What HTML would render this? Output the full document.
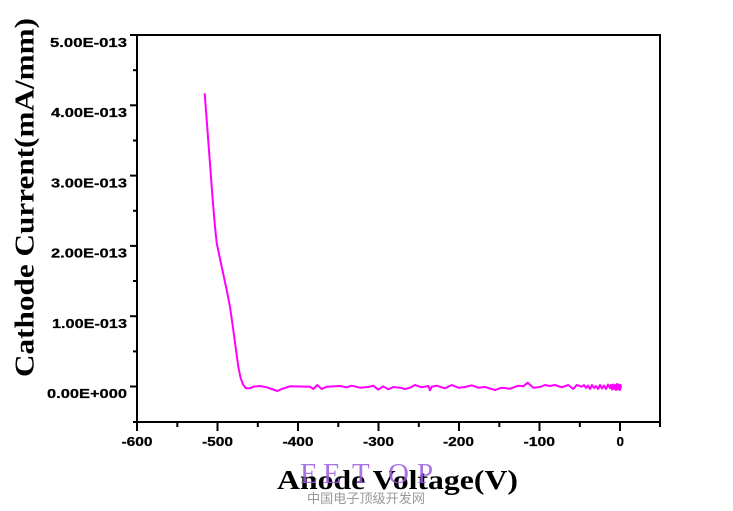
<!DOCTYPE html>
<html>
<head>
<meta charset="utf-8">
<style>
html,body{margin:0;padding:0;background:#fff;}
svg{display:block;}
.tk{font-family:"Liberation Sans",Arial,sans-serif;font-weight:bold;font-size:13px;fill:#000;stroke:#000;stroke-width:0.25;}
.tt{font-family:"Liberation Serif","Times New Roman",serif;font-weight:bold;font-size:27px;fill:#000;}
</style>
</head>
<body>
<svg width="733" height="511" viewBox="0 0 733 511" xmlns="http://www.w3.org/2000/svg">
<rect x="0" y="0" width="733" height="511" fill="#fff"/>
<g stroke="#000" stroke-width="2" fill="none">
<line x1="137" y1="34" x2="137" y2="423"/>
<line x1="136" y1="422" x2="661" y2="422"/>
<line x1="136" y1="35" x2="661" y2="35"/>
<line x1="660" y1="34" x2="660" y2="423"/>
<line x1="130" y1="386.5" x2="137" y2="386.5"/>
<line x1="130" y1="316.2" x2="137" y2="316.2"/>
<line x1="130" y1="245.9" x2="137" y2="245.9"/>
<line x1="130" y1="175.6" x2="137" y2="175.6"/>
<line x1="130" y1="105.3" x2="137" y2="105.3"/>
<line x1="130" y1="35" x2="137" y2="35"/>
<line x1="133" y1="422" x2="137" y2="422"/>
<line x1="133" y1="351.4" x2="137" y2="351.4"/>
<line x1="133" y1="281" x2="137" y2="281"/>
<line x1="133" y1="210.8" x2="137" y2="210.8"/>
<line x1="133" y1="140.5" x2="137" y2="140.5"/>
<line x1="133" y1="70.2" x2="137" y2="70.2"/>
<line x1="137" y1="422" x2="137" y2="431"/>
<line x1="217.5" y1="422" x2="217.5" y2="431"/>
<line x1="298" y1="422" x2="298" y2="431"/>
<line x1="378.5" y1="422" x2="378.5" y2="431"/>
<line x1="459" y1="422" x2="459" y2="431"/>
<line x1="539.5" y1="422" x2="539.5" y2="431"/>
<line x1="620" y1="422" x2="620" y2="431"/>
<line x1="177.3" y1="422" x2="177.3" y2="427"/>
<line x1="257.8" y1="422" x2="257.8" y2="427"/>
<line x1="338.3" y1="422" x2="338.3" y2="427"/>
<line x1="418.8" y1="422" x2="418.8" y2="427"/>
<line x1="499.3" y1="422" x2="499.3" y2="427"/>
<line x1="579.8" y1="422" x2="579.8" y2="427"/>
<line x1="660" y1="422" x2="660" y2="427"/>
</g>
<text class="tk" x="50" y="47" textLength="77" lengthAdjust="spacingAndGlyphs">5.00E-013</text>
<text class="tk" x="51" y="117" textLength="76" lengthAdjust="spacingAndGlyphs">4.00E-013</text>
<text class="tk" x="51" y="187.5" textLength="76" lengthAdjust="spacingAndGlyphs">3.00E-013</text>
<text class="tk" x="51" y="257.5" textLength="76" lengthAdjust="spacingAndGlyphs">2.00E-013</text>
<text class="tk" x="52" y="328" textLength="75" lengthAdjust="spacingAndGlyphs">1.00E-013</text>
<text class="tk" x="47" y="398" textLength="80" lengthAdjust="spacingAndGlyphs">0.00E+000</text>
<text class="tk" x="121.5" y="446" textLength="31" lengthAdjust="spacingAndGlyphs">-600</text>
<text class="tk" x="202" y="446" textLength="31" lengthAdjust="spacingAndGlyphs">-500</text>
<text class="tk" x="282.5" y="446" textLength="31" lengthAdjust="spacingAndGlyphs">-400</text>
<text class="tk" x="363" y="446" textLength="31" lengthAdjust="spacingAndGlyphs">-300</text>
<text class="tk" x="443" y="446" textLength="31" lengthAdjust="spacingAndGlyphs">-200</text>
<text class="tk" x="523.5" y="446" textLength="31.5" lengthAdjust="spacingAndGlyphs">-100</text>
<text class="tk" x="616.5" y="446" textLength="7.5" lengthAdjust="spacingAndGlyphs">0</text>
<polyline fill="none" stroke="#ff00ff" stroke-width="2" stroke-linejoin="round" points="
204.7,93.3 206.7,120 208.7,146.7 210.7,173 212.7,200 215,226.7 216.7,243 221.7,266.7 226.7,290 230,306.7 233.3,330 236,350 238.3,366.7 240.7,378.3 243.3,385 246,388.3 250,388.3 253.3,386.7 260,386 266.7,387.3 271.7,389 277.3,391 281.7,389 290,386.3 300,386.5 310,386.7 313.3,389 317.3,385 321.7,389 326.7,386.7 340,386 346.7,387.3 351.7,385.7 360,387.7 368.3,387 373.3,385.7 378.3,389.7 383.3,386.3 388.3,389.3 393.3,387 400,387.7 405,389 410,387.7 415,385 421.7,387.3 428.3,386 430,390.3 431.7,386.7 436.7,385.7 445,388.3 451.7,385 458.3,387.7 465,387 471.7,385.3 478.3,387.7 485,387 495,390 501.7,387.7 510,388.7 518.3,385.7 523.3,386.3 527.7,382.7 533.3,387.7 540,387 545,385 550,386 555,385 561.7,387.3 568.3,385 573.3,389 576.7,385 581.7,386.7 584,385 586,388 588,385.5 590,389 592,385 594,388 596,386 598,389 600,385 602,388.5 604,385.5 606,389 608,384.5 610,388 611,385 612,389.5 613,384.5 614,389 615,385 616,390 617,384 618,389.5 619,384.5 620,390 620.5,385 621,388"/>
<text class="tt" x="277" y="489" textLength="241" lengthAdjust="spacingAndGlyphs">Anode Voltage(V)</text>
<text class="tt" transform="translate(33.5,377) rotate(-90)" x="0" y="0" textLength="359" lengthAdjust="spacingAndGlyphs">Cathode Current(mA/mm)</text>
<text x="300 323 352 388 417" y="483" font-family="Liberation Serif, serif" font-size="29" fill="#9a5be0" fill-opacity="0.85">EETOP</text>
<text x="307" y="503" font-family="Liberation Sans, Noto Sans CJK SC, sans-serif" font-size="13" fill="#999999" textLength="118" lengthAdjust="spacingAndGlyphs">中国电子顶级开发网</text>
</svg>
</body>
</html>
